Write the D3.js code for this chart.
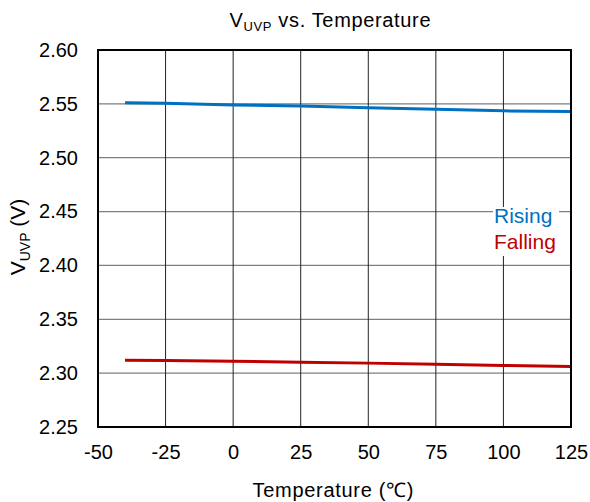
<!DOCTYPE html>
<html>
<head>
<meta charset="utf-8">
<script src="https://cdn.jsdelivr.net/npm/d3@7"></script>
<style>
  body { margin: 0; background: #fff; }
  text { font-family: "Liberation Sans", Arial, sans-serif; fill: #000; }
</style>
</head>
<body>
<div id="chart"></div>
<script>
// data
var temps = [-40, -25, 0, 25, 50, 75, 100, 125];
var rising = [2.551, 2.5505, 2.549, 2.548, 2.5465, 2.545, 2.5435, 2.543];
var falling = [2.312, 2.3117, 2.311, 2.3102, 2.3093, 2.3083, 2.3072, 2.3062];
var xTicks = [-50, -25, 0, 25, 50, 75, 100, 125];
var yTicks = [2.25, 2.30, 2.35, 2.40, 2.45, 2.50, 2.55, 2.60];

var W = 590, H = 502;
var margin = {top: 50, right: 19, bottom: 75, left: 98},
    width = W - margin.left - margin.right,
    height = H - margin.top - margin.bottom;

var svg = d3.select("#chart").append("svg")
    .attr("width", W)
    .attr("height", H);

var g = svg.append("g")
    .attr("transform", "translate(" + margin.left + "," + margin.top + ")");

var x = d3.scaleLinear().domain([-50, 125]).range([0, width]);
var y = d3.scaleLinear().domain([2.25, 2.60]).range([height, 0]);

// grid
g.selectAll(".hgrid").data(yTicks).enter().append("line")
    .attr("x1", 0).attr("x2", width)
    .attr("y1", function(d) { return y(d); })
    .attr("y2", function(d) { return y(d); })
    .style("stroke", "#7f7f7f").style("stroke-width", 1.3);

g.selectAll(".vgrid").data(xTicks).enter().append("line")
    .attr("x1", function(d) { return x(d); })
    .attr("x2", function(d) { return x(d); })
    .attr("y1", 0).attr("y2", height)
    .style("stroke", "#222").style("stroke-width", 1);

// lines
var line = d3.line()
    .x(function(d, i) { return x(temps[i]); })
    .y(function(d) { return y(d); });

g.append("path").datum(rising)
    .attr("d", line)
    .style("fill", "none").style("stroke", "#0070c0").style("stroke-width", 3);

g.append("path").datum(falling)
    .attr("d", line)
    .style("fill", "none").style("stroke", "#c00000").style("stroke-width", 3);

// frame
g.append("rect")
    .attr("width", width).attr("height", height)
    .style("fill", "none").style("stroke", "#000").style("stroke-width", 2);

// axes
var xAxis = g.append("g")
    .attr("transform", "translate(0," + height + ")")
    .call(d3.axisBottom(x).tickValues(xTicks).tickSize(0).tickPadding(18)
      .tickFormat(function(d) { return String(d); }));
xAxis.select(".domain").remove();
xAxis.selectAll("text").style("font-size", "20px");

var yAxis = g.append("g")
    .call(d3.axisLeft(y).tickValues(yTicks).tickSize(0).tickPadding(20).tickFormat(d3.format(".2f")));
yAxis.select(".domain").remove();
yAxis.selectAll("text").style("font-size", "20px");

// title
var title = svg.append("text")
    .attr("x", 330).attr("y", 27)
    .attr("text-anchor", "middle")
    .attr("textLength", 201).attr("lengthAdjust", "spacing")
    .style("font-size", "20px");
title.append("tspan").text("V");
title.append("tspan").text("UVP").attr("dy", 4).style("font-size", "13px");
title.append("tspan").text(" vs. Temperature").attr("dy", -4);

// axis titles
svg.append("text")
    .attr("x", 333).attr("y", 497)
    .attr("text-anchor", "middle")
    .attr("textLength", 161).attr("lengthAdjust", "spacing")
    .style("font-size", "20px")
    .text("Temperature (℃)");

var yl = svg.append("text")
    .attr("transform", "translate(25,237) rotate(-90)")
    .attr("text-anchor", "middle")
    .style("font-size", "21px");
yl.append("tspan").text("V");
yl.append("tspan").text("UVP").attr("dy", 5).style("font-size", "14px");
yl.append("tspan").text(" (V)").attr("dy", -5);

// legend
g.append("rect")
    .attr("x", 493 - margin.left).attr("y", 207 - margin.top)
    .attr("width", 66).attr("height", 49)
    .style("fill", "#fff");
g.append("text")
    .attr("x", 494 - margin.left).attr("y", 223 - margin.top)
    .style("font-size", "21px").style("fill", "#0070c0")
    .text("Rising");
g.append("text")
    .attr("x", 494 - margin.left).attr("y", 249 - margin.top)
    .style("font-size", "21px").style("fill", "#c00000")
    .text("Falling");
</script>
</body>
</html>
